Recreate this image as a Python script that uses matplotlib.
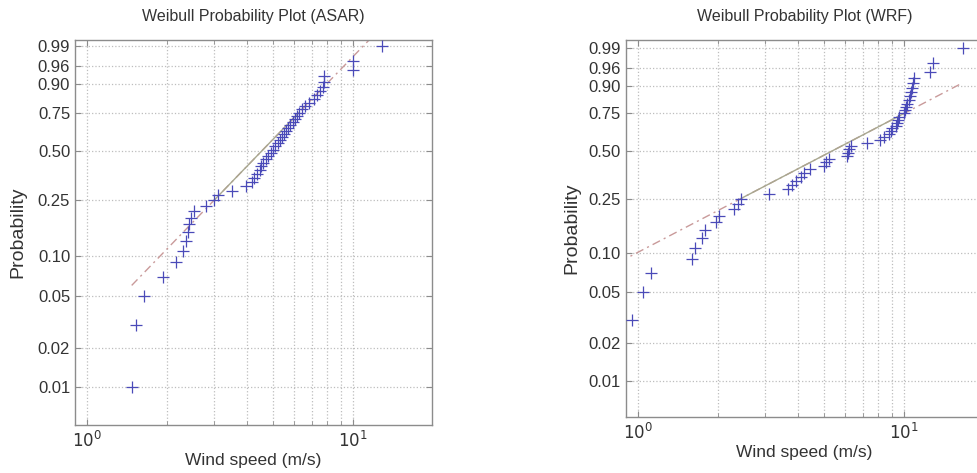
import numpy as np
import matplotlib
matplotlib.use("Agg")
import matplotlib.pyplot as plt
from matplotlib.ticker import FixedLocator, FixedFormatter, NullFormatter

plt.rcParams['font.family'] = ['Liberation Sans', 'DejaVu Sans']

# ---- data (sorted wind speeds, m/s) ----
asar_speed = [1.47, 1.53, 1.63, 1.93, 2.15, 2.30, 2.35, 2.39, 2.42, 2.46,
              2.52, 2.80, 3.00, 3.10, 3.50, 3.95, 4.15, 4.25, 4.35, 4.45,
              4.50, 4.60, 4.70, 4.80, 4.90, 5.00, 5.10, 5.20, 5.30, 5.40,
              5.50, 5.60, 5.70, 5.80, 5.95, 6.05, 6.15, 6.25, 6.40, 6.60,
              6.80, 7.10, 7.30, 7.50, 7.70, 7.75, 7.80, 10.0, 10.0, 12.8]
wrf_speed = [0.85, 0.947, 1.047, 1.12, 1.60, 1.64, 1.74, 1.79, 1.97, 2.01,
             2.29, 2.37, 2.43, 3.11, 3.66, 3.78, 3.93, 4.11, 4.22, 4.41,
             5.02, 5.10, 5.20, 6.08, 6.15, 6.20, 6.30, 7.24, 8.10, 8.40,
             8.80, 8.90, 9.00, 9.30, 9.40, 9.50, 9.60, 10.0, 10.1, 10.2,
             10.3, 10.4, 10.5, 10.6, 10.7, 10.8, 10.86, 12.5, 12.8, 16.6]

titles = ["Weibull Probability Plot (ASAR)", "Weibull Probability Plot (WRF)"]
ytick_vals = [0.01, 0.02, 0.05, 0.10, 0.25, 0.50, 0.75, 0.90, 0.96, 0.99]
ytick_labels = ["0.01", "0.02", "0.05", "0.10", "0.25", "0.50", "0.75", "0.90", "0.96", "0.99"]
xlabel = "Wind speed (m/s)"
ylabel = "Probability"


def fwd(p):
    p = np.clip(np.asarray(p, dtype=float), 1e-12, 1 - 1e-12)
    return np.log(-np.log1p(-p))


def inv(g):
    g = np.asarray(g, dtype=float)
    return -np.expm1(-np.exp(g))


fig = plt.figure(figsize=(9.77, 4.73), dpi=100)
axes_pos = [[0.0768, 0.1015, 0.3654, 0.814], [0.6407, 0.1184, 0.3654, 0.797]]
ylims = [(0.005085, 0.99393), (0.00512, 0.99533)]
ylabel_x = [-0.135, -0.129]

txt = '#333333'
spine = '#8c8c8c'
mk = '#4a4ab8'

for k, data in enumerate([asar_speed, wrf_speed]):
    ax = fig.add_axes(axes_pos[k])
    x = np.sort(np.array(data))
    n = len(x)
    p = (np.arange(1, n + 1) - 0.5) / n
    ax.set_xscale('log')
    ax.set_yscale('function', functions=(fwd, inv))
    ax.set_xlim(0.9, 19.8)
    ax.set_ylim(*ylims[k])

    # reference line through quartiles
    q1, q3 = np.percentile(x, [25, 75], method='hazen')
    g1, g3 = fwd(0.25), fwd(0.75)
    slope = (g3 - g1) / (np.log(q3) - np.log(q1))

    def line_p(xx):
        return inv(g1 + slope * (np.log(xx) - np.log(q1)))
    xs_full = np.geomspace(x.min(), x.max(), 200)
    ax.plot(xs_full, line_p(xs_full), color='#c99a9a', lw=1.0,
            linestyle=(0, (6, 3, 1.5, 3)), zorder=2)
    xs_mid = np.geomspace(q1, q3, 100)
    ax.plot(xs_mid, line_p(xs_mid), color='#a8a890', lw=1.0, zorder=3)

    ax.plot(x, p, linestyle='none', marker='+', markersize=9,
            markeredgewidth=0.9, color=mk, zorder=4)

    ax.yaxis.set_major_locator(FixedLocator(ytick_vals))
    ax.yaxis.set_major_formatter(FixedFormatter(ytick_labels))
    ax.yaxis.set_minor_locator(FixedLocator([]))
    ax.xaxis.set_major_locator(FixedLocator([1, 10]))
    ax.xaxis.set_major_formatter(FixedFormatter([r'$10^0$', r'$10^1$']))
    ax.xaxis.set_minor_locator(FixedLocator([2, 3, 4, 5, 6, 7, 8, 9]))
    ax.xaxis.set_minor_formatter(NullFormatter())

    ax.grid(True, which='major', color='#bdbdbd', linestyle=':', lw=0.9)
    ax.grid(True, which='minor', axis='x', color='#bdbdbd', linestyle=':', lw=0.9)
    ax.tick_params(which='both', direction='in', top=True, right=True,
                   colors=spine, labelcolor=txt, labelsize=12)
    ax.tick_params(which='major', length=4)
    ax.tick_params(which='minor', length=3)
    for s in ax.spines.values():
        s.set_color(spine)
        s.set_linewidth(1.0)

    ax.set_title(titles[k], fontsize=11.5, color=txt, pad=14)
    ax.set_xlabel(xlabel, fontsize=12.5, color=txt, labelpad=2)
    ax.set_ylabel(ylabel, fontsize=14, color=txt)
    ax.yaxis.set_label_coords(ylabel_x[k], 0.5)

fig.savefig("out.png", dpi=100)
